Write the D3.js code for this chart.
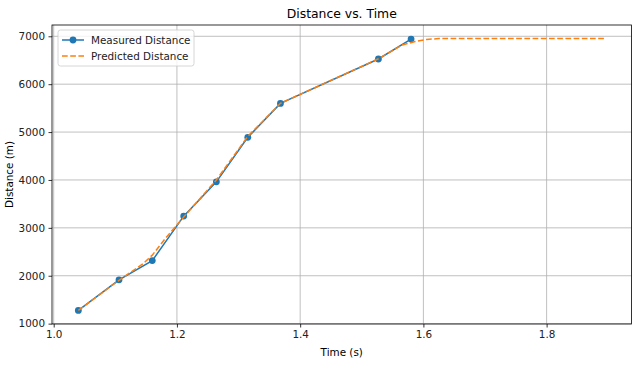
<!DOCTYPE html>
<html>
<head>
<meta charset="utf-8">
<script src="https://cdn.jsdelivr.net/npm/d3@7"></script>
<style>
  body { margin: 0; background: #fff; }
  svg { font-family: "DejaVu Sans", sans-serif; }
</style>
</head>
<body>
<div id="chart"></div>
<script>
// measured samples
var measuredTime = [1.04, 1.106, 1.16, 1.211, 1.264, 1.315, 1.368, 1.527, 1.58];
var measuredDist = [1276, 1915, 2316, 3245, 3960, 4890, 5598, 6526, 6942];

// predicted curve
var predictedTime = [1.04, 1.106, 1.145, 1.16, 1.18, 1.211, 1.264, 1.315, 1.368, 1.527, 1.565, 1.585, 1.605, 1.625, 1.895];
var predictedDist = [1276, 1905, 2250, 2430, 2760, 3225, 4000, 4910, 5600, 6530, 6815, 6885, 6935, 6952, 6952];

var xTicks = [1.0, 1.2, 1.4, 1.6, 1.8];
var yTicks = [1000, 2000, 3000, 4000, 5000, 6000, 7000];

var W = 637, H = 365;
var m = {left: 52, right: 5.5, top: 25, bottom: 41};
var pw = W - m.left - m.right, ph = H - m.top - m.bottom;

var svg = d3.select("#chart").append("svg")
    .attr("width", W).attr("height", H);

// matplotlib-like 5% margins
var allX = measuredTime.concat(predictedTime);
var allY = measuredDist.concat(predictedDist);
var x0 = d3.min(allX), x1 = d3.max(allX), dx = (x1 - x0) * 0.05;
var y0 = d3.min(allY), y1 = d3.max(allY), dy = (y1 - y0) * 0.05;

var x = d3.scaleLinear().domain([x0 - dx, x1 + dx]).range([0, pw]);
var y = d3.scaleLinear().domain([y0 - dy, y1 + dy]).range([ph, 0]);

var g = svg.append("g").attr("transform", "translate(" + m.left + "," + m.top + ")");

// grid
g.append("g").selectAll("line").data(xTicks).enter().append("line")
    .attr("x1", function(d){return x(d);}).attr("x2", function(d){return x(d);})
    .attr("y1", 0).attr("y2", ph)
    .attr("stroke", "#b0b0b0").attr("stroke-width", 0.8);
g.append("g").selectAll("line").data(yTicks).enter().append("line")
    .attr("y1", function(d){return y(d);}).attr("y2", function(d){return y(d);})
    .attr("x1", 0).attr("x2", pw)
    .attr("stroke", "#b0b0b0").attr("stroke-width", 0.8);

// axes
var xAxis = g.append("g").attr("transform", "translate(0," + ph + ")")
    .call(d3.axisBottom(x).tickValues(xTicks).tickFormat(d3.format(".1f")).tickSize(3.5).tickPadding(3.5));
var yAxis = g.append("g")
    .call(d3.axisLeft(y).tickValues(yTicks).tickFormat(d3.format("d")).tickSize(3.5).tickPadding(3.5));
[xAxis, yAxis].forEach(function(a) {
    a.select(".domain").remove();
    a.selectAll("line").attr("stroke", "#000").attr("stroke-width", 0.8);
    a.selectAll("text").attr("font-size", "10.4px").attr("fill", "#222")
        .attr("font-family", "DejaVu Sans");
});

// frame
g.append("rect").attr("x", 0).attr("y", 0).attr("width", pw).attr("height", ph)
    .attr("fill", "none").attr("stroke", "#000").attr("stroke-width", 0.8);

var line = d3.line()
    .x(function(d){return x(d[0]);})
    .y(function(d){return y(d[1]);});

var measured = d3.zip(measuredTime, measuredDist);
var predicted = d3.zip(predictedTime, predictedDist);

g.append("path").datum(measured).attr("d", line)
    .attr("fill", "none").attr("stroke", "#1f77b4").attr("stroke-width", 1.5);
g.selectAll("circle.pt").data(measured).enter().append("circle")
    .attr("class", "pt")
    .attr("cx", function(d){return x(d[0]);}).attr("cy", function(d){return y(d[1]);})
    .attr("r", 3.4).attr("fill", "#1f77b4");
g.append("path").datum(predicted).attr("d", line)
    .attr("fill", "none").attr("stroke", "#ff7f0e").attr("stroke-width", 1.5)
    .attr("stroke-dasharray", "5.7,2.5");

// title and labels
svg.append("text").attr("x", m.left + pw / 2).attr("y", 18)
    .attr("text-anchor", "middle").attr("font-size", "12.4px").attr("fill", "#000")
    .text("Distance vs. Time");
svg.append("text").attr("x", m.left + pw / 2).attr("y", 356)
    .attr("text-anchor", "middle").attr("font-size", "10.4px").attr("fill", "#000")
    .text("Time (s)");
svg.append("text")
    .attr("transform", "translate(13," + (m.top + ph / 2) + ") rotate(-90)")
    .attr("text-anchor", "middle").attr("font-size", "10.4px").attr("fill", "#000")
    .text("Distance (m)");

// legend
var lg = g.append("g").attr("transform", "translate(6,5)");
lg.append("rect").attr("x", 0).attr("y", 0).attr("width", 136).attr("height", 36)
    .attr("rx", 2.5).attr("fill", "#fff").attr("fill-opacity", 0.8)
    .attr("stroke", "#ccc").attr("stroke-width", 0.8);
lg.append("line").attr("x1", 4).attr("x2", 26).attr("y1", 10).attr("y2", 10)
    .attr("stroke", "#1f77b4").attr("stroke-width", 1.5);
lg.append("circle").attr("cx", 15).attr("cy", 10).attr("r", 3.4).attr("fill", "#1f77b4");
lg.append("text").attr("x", 33).attr("y", 13.8).attr("font-size", "10.4px").attr("fill", "#222")
    .text("Measured Distance");
lg.append("line").attr("x1", 4).attr("x2", 26).attr("y1", 26).attr("y2", 26)
    .attr("stroke", "#ff7f0e").attr("stroke-width", 1.5).attr("stroke-dasharray", "5.7,2.5");
lg.append("text").attr("x", 33).attr("y", 29.8).attr("font-size", "10.4px").attr("fill", "#222")
    .text("Predicted Distance");
</script>
</body>
</html>
